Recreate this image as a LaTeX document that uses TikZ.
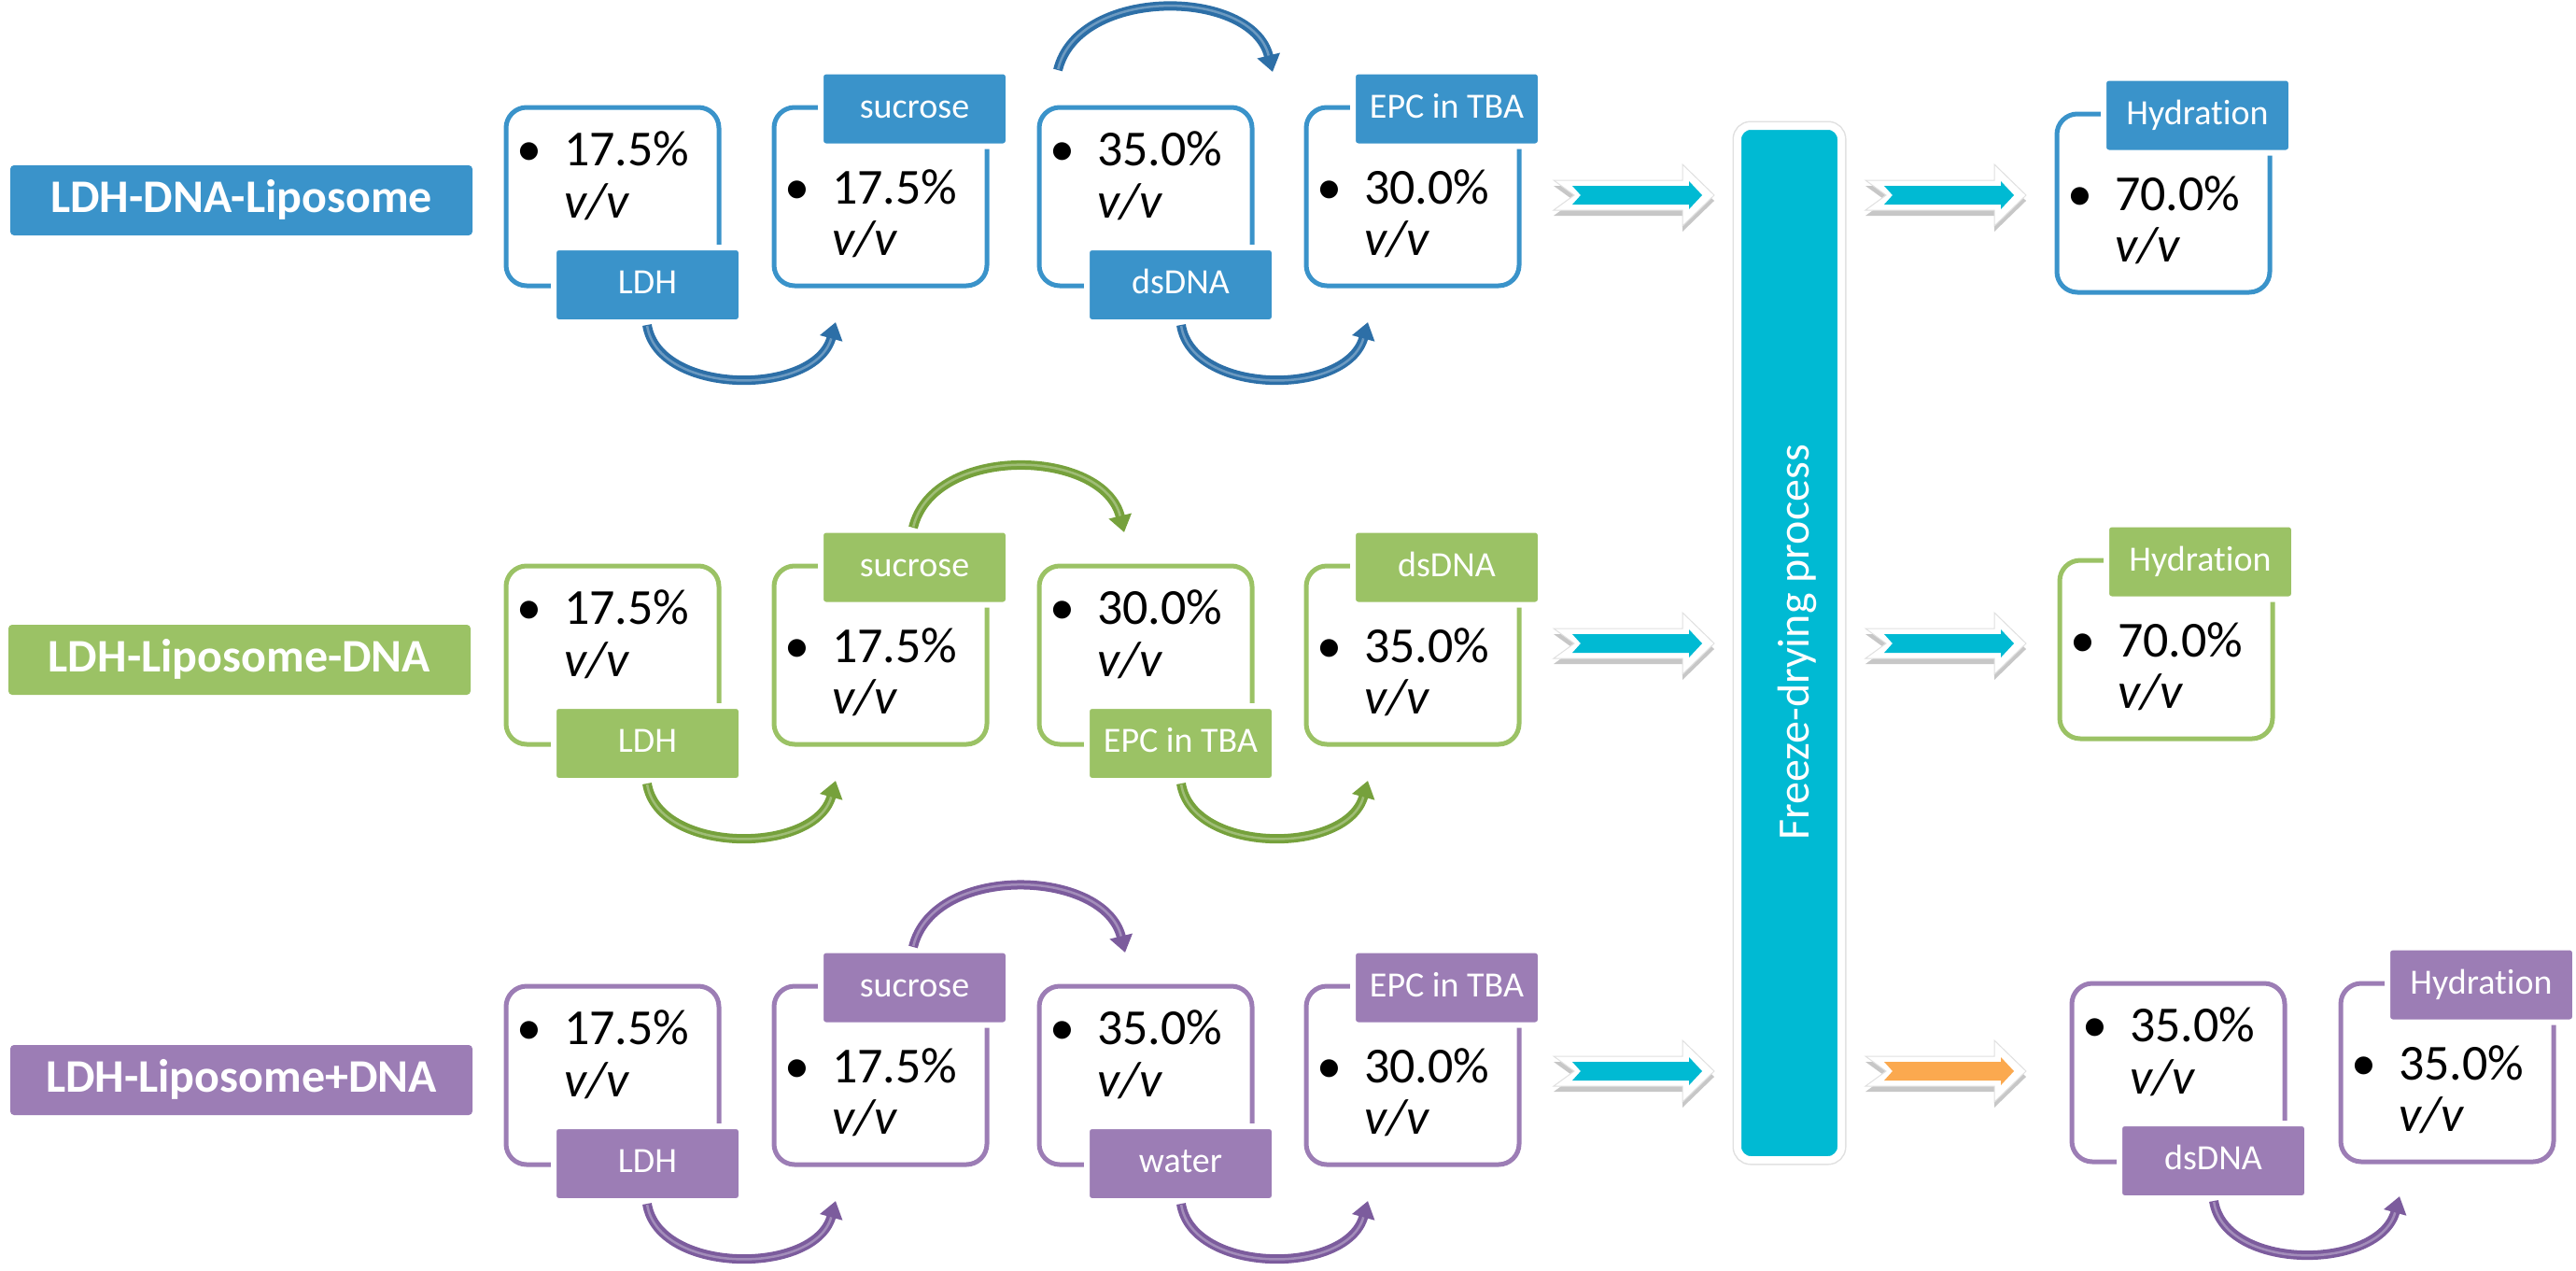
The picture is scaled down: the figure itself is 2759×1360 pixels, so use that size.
\documentclass[tikz,border=0pt]{standalone}
\usepackage{fontspec}
\setmainfont{Carlito}[Ligatures=NoCommon]
\usetikzlibrary{calc,arrows.meta,shadows}
\definecolor{cB}{HTML}{3A93CA}
\definecolor{cBd}{HTML}{2D6FA7}
\definecolor{cG}{HTML}{9BC265}
\definecolor{cGd}{HTML}{76A13C}
\definecolor{cP}{HTML}{9C7DB5}
\definecolor{cPd}{HTML}{7C5C9D}
\definecolor{cC}{HTML}{00BAD3}
\definecolor{cO}{HTML}{FBA94F}
\tikzset{
  boxs/.style={draw=#1, line width=5pt, rounded corners=22pt, minimum width=228pt,
    minimum height=191pt, outer sep=0pt, inner sep=0pt, fill=white},
  tagbox/.style={fill=#1, draw=white, line width=6pt, minimum width=201pt, minimum height=80pt,
    rounded corners=5pt, text=white, font=\fontsize{38}{44}\selectfont, inner sep=0pt,
    outer sep=0pt, text height=26pt, text depth=7pt},
  rowlabel/.style={fill=#1, minimum width=495pt, minimum height=75pt, rounded corners=4pt,
    text=white, font=\bfseries\fontsize{50}{56}\selectfont, inner sep=0pt,
    text height=34pt, text depth=9pt},
  valtxt/.style={font=\fontsize{54}{60}\selectfont, inner sep=0pt, anchor=base west},
  bul/.style={font=\fontsize{54}{60}\selectfont, inner sep=0pt, anchor=base},
  curv/.style={draw=#1, line width=10pt, -{Triangle[length=18pt,width=24pt]}},
}
\newcommand\mkbox[7]{%
  \node[boxs=#2, anchor=north west] (#1) at (#3,#4) {};
  \if b#5
    \node[tagbox=#2] (#1t) at ($(#1.south west)+(151.5,-1)$) {#6};
    \node[bul] (#1d) at ($(#1.north west)+(25,62)$) {•};
    \node[valtxt] (#1v) at ($(#1.north west)+(62,62)$) {#7\%};
    \node[valtxt] (#1u) at ($(#1.north west)+(62,118)$) {\itshape v/v};
  \else
    \node[tagbox=#2] (#1t) at ($(#1.north west)+(150.5,1.5)$) {#6};
    \node[bul] (#1d) at ($(#1.north west)+(25,103)$) {•};
    \node[valtxt] (#1v) at ($(#1.north west)+(62,103)$) {#7\%};
    \node[valtxt] (#1u) at ($(#1.north west)+(62,158)$) {\itshape v/v};
  \fi
}
\newcommand\curvarr[5]{%
  \draw[curv=#1] #2 .. controls #3 and #4 .. #5;
  \draw[white, opacity=0.3, line width=2.5pt, shorten >=18pt, shorten <=1pt] #2 .. controls #3 and #4 .. #5;
}
\newcommand\blkarrow[3]{%
  \fill[white, draw=black!12, line width=1pt,
    drop shadow={shadow xshift=0pt,shadow yshift=-6pt,opacity=0.22,fill=black}]
    (#1,#2-16) -- (#1+138,#2-16) -- (#1+138,#2-33) -- (#1+172,#2) -- (#1+138,#2+33)
    -- (#1+138,#2+16) -- (#1,#2+16) -- (#1+22,#2) -- cycle;
  \fill[#3] (#1+20,#2-10) -- (#1+145,#2-10) -- (#1+145,#2-15) -- (#1+159,#2)
    -- (#1+145,#2+15) -- (#1+145,#2+10) -- (#1+20,#2+10) -- (#1+29,#2) -- cycle;
}
\begin{document}
\begin{tikzpicture}[x=1pt,y=-1pt]
\useasboundingbox (0,0) rectangle (2759,1360);
\fill[white] (0,0) rectangle (2759,1360);

% row labels
\node[rowlabel=cB] (L1) at (258.5,214.5) {LDH-DNA-Liposome};
\node[rowlabel=cG] (L2) at (256.5,706.5) {LDH-Liposome-DNA};
\node[rowlabel=cP] (L3) at (258.5,1156.5) {LDH-Liposome+DNA};

% freeze-drying bar
\node[fill=cC, draw=white, line width=8pt, rounded corners=14pt, minimum width=111pt,
  minimum height=1107pt, inner sep=0pt, preaction={draw=black!12, line width=11pt}]
  (bar) at (1916.5,688.5) {};
\node[rotate=90, anchor=base, text=white, font=\fontsize{48}{54}\selectfont, inner sep=0pt]
  (bartext) at (1937,688) {Freeze-drying process};

% row 1
\mkbox{b11}{cB}{542}{115}{b}{LDH}{17.5}
\mkbox{b12}{cB}{829}{115}{t}{sucrose}{17.5}
\mkbox{b13}{cB}{1113}{115}{b}{dsDNA}{35.0}
\mkbox{b14}{cB}{1399}{115}{t}{EPC in TBA}{30.0}
\mkbox{h1}{cB}{2203}{122}{t}{Hydration}{70.0}
\curvarr{cBd}{($(b11.south west)+(151,42)$)}{+(12,76)}{+(-22,80)}{($(b12.south west)+(66,39)$)}
\curvarr{cBd}{($(b13.south west)+(152,42)$)}{+(12,76)}{+(-22,80)}{($(b14.south west)+(66,39)$)}
\curvarr{cBd}{($(b13.north west)+(20,-40)$)}{+(22,-90)}{+(-22,-90)}{($(b14.north west)+(-36,-38)$)}
\blkarrow{1664}{209}{cC}
\blkarrow{1998}{209}{cC}

% row 2
\mkbox{b21}{cG}{542}{606}{b}{LDH}{17.5}
\mkbox{b22}{cG}{829}{606}{t}{sucrose}{17.5}
\mkbox{b23}{cG}{1113}{606}{b}{EPC in TBA}{30.0}
\mkbox{b24}{cG}{1399}{606}{t}{dsDNA}{35.0}
\mkbox{h2}{cG}{2206}{600}{t}{Hydration}{70.0}
\curvarr{cGd}{($(b21.south west)+(151,42)$)}{+(12,76)}{+(-22,80)}{($(b22.south west)+(66,39)$)}
\curvarr{cGd}{($(b23.south west)+(152,42)$)}{+(12,76)}{+(-22,80)}{($(b24.south west)+(66,39)$)}
\curvarr{cGd}{($(b22.north west)+(149,-41)$)}{+(22,-90)}{+(-22,-90)}{($(b23.north west)+(91,-36)$)}
\blkarrow{1664}{689}{cC}
\blkarrow{1998}{689}{cC}

% row 3
\mkbox{b31}{cP}{542}{1056}{b}{LDH}{17.5}
\mkbox{b32}{cP}{829}{1056}{t}{sucrose}{17.5}
\mkbox{b33}{cP}{1113}{1056}{b}{water}{35.0}
\mkbox{b34}{cP}{1399}{1056}{t}{EPC in TBA}{30.0}
\mkbox{d3}{cP}{2219}{1053}{b}{dsDNA}{35.0}
\mkbox{h3}{cP}{2507}{1053}{t}{Hydration}{35.0}
\curvarr{cPd}{($(b31.south west)+(151,42)$)}{+(12,76)}{+(-22,80)}{($(b32.south west)+(66,39)$)}
\curvarr{cPd}{($(b33.south west)+(152,42)$)}{+(12,76)}{+(-22,80)}{($(b34.south west)+(66,39)$)}
\curvarr{cPd}{($(b32.north west)+(149,-42)$)}{+(22,-90)}{+(-22,-90)}{($(b33.north west)+(92,-36)$)}
\curvarr{cPd}{($(d3.south west)+(152,42)$)}{+(12,76)}{+(-22,80)}{($(h3.south west)+(63,37)$)}
\blkarrow{1664}{1147}{cC}
\blkarrow{1998}{1147}{cO}
\end{tikzpicture}
\end{document}
